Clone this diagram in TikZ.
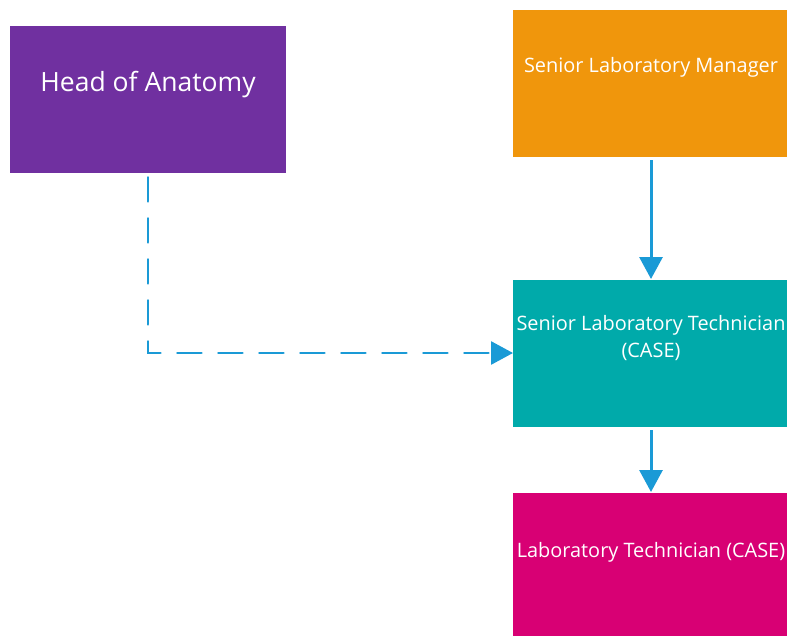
\documentclass[tikz,border=0pt]{standalone}
\usepackage{fontspec}
\setmainfont{Open Sans}
\usetikzlibrary{arrows.meta,calc}
\definecolor{anatomy}{RGB}{112,48,160}
\definecolor{manager}{RGB}{240,150,12}
\definecolor{seniortech}{RGB}{0,170,170}
\definecolor{labtech}{RGB}{216,0,116}
\definecolor{link}{RGB}{26,154,214}
\begin{document}
\begin{tikzpicture}[x=1pt,y=-1pt,
  rolebox/.style={draw=none,fill=#1,anchor=north west,inner sep=0pt,
    minimum width=276pt,minimum height=147pt},
  roletext/.style={text=white,anchor=base,inner sep=0pt,font=\fontsize{19.9}{27}\selectfont,align=center},
  headtext/.style={text=white,anchor=base,inner sep=0pt,font=\fontsize{26.5}{30}\selectfont},
  solidlink/.style={draw=link,line width=3pt,-{Triangle[width=23pt,length=22pt]}},
  dashlink/.style={draw=link,line width=2.8pt,line cap=round,dash pattern=on 24pt off 17pt,
    -{Triangle[width=23pt,length=22pt]}}
]
\useasboundingbox (0,0) rectangle (787,635);
\begin{scope}
\clip (0,0) rectangle (787,635);
% boxes
\node[rolebox=anatomy] (head) at (10,26) {};
\node[rolebox=manager] (mgr) at (513,10) {};
\node[rolebox=seniortech] (stech) at (513,280) {};
\node[rolebox=labtech] (ltech) at (513,493) {};
% labels
\node[headtext] (headlbl) at (148,91) {Head of Anatomy};
\node[roletext] (mgrlbl) at (651,72) {Senior Laboratory Manager};
\node[roletext] (stechlbl) at (651,330) {Senior Laboratory Technician};
\node[roletext] (stechlbl2) at (651,357) {(CASE)};
\node[roletext] (ltechlbl) at (651,557) {Laboratory Technician (CASE)};
\end{scope}
% connectors
\coordinate (corner) at (148,353);
\draw[solidlink] ([yshift=-3pt]mgr.south -| 651,0) -- ([yshift=1pt]stech.north -| 651,0);
\draw[solidlink] ([yshift=-3pt]stech.south -| 651,0) -- ([yshift=1pt]ltech.north -| 651,0);
\draw[dashlink] ([yshift=-4pt]head.south -| corner) -- (corner) -- (corner -| stech.west);
\end{tikzpicture}
\end{document}
